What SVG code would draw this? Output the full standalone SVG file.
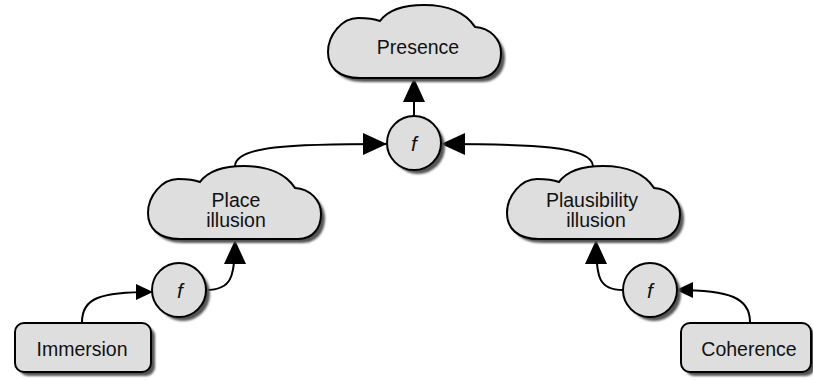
<svg xmlns="http://www.w3.org/2000/svg" width="813" height="381" viewBox="0 0 813 381">
<style>
.shape{fill:#dedede;stroke:#000;stroke-width:2}
.shadow{fill:#555;stroke:none;filter:url(#blur)}
.lbl{font-family:"Liberation Sans",Arial,sans-serif;font-size:19.5px;fill:#111;text-anchor:middle}
.fn{font-style:italic;font-size:21px}
.edge{fill:none;stroke:#000;stroke-width:2}
</style>
<defs>
<filter id="blur" x="-10%" y="-10%" width="120%" height="120%"><feGaussianBlur stdDeviation="0.8"/></filter>
<path id="cloud" d="M32,73 C10,73 0,62 0,47 C0,30 14,13 30,13 C40,13 47,14 52,16 C60,5 76,0 96,0 C120,0 138,8 147,22 C162,23 173,34 173,48 C173,62 165,73 150,73 Z"/>
<marker id="ahBig" markerUnits="userSpaceOnUse" markerWidth="24" markerHeight="22" refX="23" refY="11" orient="auto" viewBox="0 0 24 22">
<path d="M0,0 L24,11 L0,22 Z" fill="#000"/>
</marker>
<marker id="ahSmall" markerUnits="userSpaceOnUse" markerWidth="17" markerHeight="16" refX="16" refY="8" orient="auto" viewBox="0 0 17 16">
<path d="M0,0 L17,8 L0,16 Z" fill="#000"/>
</marker>
</defs>
<rect width="813" height="381" fill="#fff"/>

<g id="connectors">
<path class="edge" d="M414,116 L414,79" marker-end="url(#ahBig)"/>
<path class="edge" d="M235,166 C236,146 290,144 386,144" marker-end="url(#ahBig)"/>
<path class="edge" d="M593,166 C592,146 530,144 442,144" marker-end="url(#ahBig)"/>
<path class="edge" d="M206,290 C231,290 235,278 235,241" marker-end="url(#ahBig)"/>
<path class="edge" d="M623,290 C599,290 596,278 596,241" marker-end="url(#ahBig)"/>
<path class="edge" d="M82,322 C82,298 100,292 152,292" marker-end="url(#ahSmall)"/>
<path class="edge" d="M750,322 C750,298 730,290 677,290" marker-end="url(#ahSmall)"/>
</g>

<g id="presence">
<use href="#cloud" class="shadow" transform="translate(332,9)"/>
<use href="#cloud" class="shape" transform="translate(328,5)"/>
<text class="lbl" x="418" y="54">Presence</text>
</g>

<g id="f-top">
<circle class="shadow" cx="418" cy="147" r="27"/>
<circle class="shape" cx="414" cy="143" r="27"/>
<text class="lbl fn" x="414" y="151">f</text>
</g>

<g id="place-illusion">
<use href="#cloud" class="shadow" transform="translate(152,170)"/>
<use href="#cloud" class="shape" transform="translate(148,166)"/>
<text class="lbl" x="236" y="207">Place</text>
<text class="lbl" x="236" y="227">illusion</text>
</g>

<g id="plausibility-illusion">
<use href="#cloud" class="shadow" transform="translate(511,170)"/>
<use href="#cloud" class="shape" transform="translate(507,166)"/>
<text class="lbl" x="592" y="207">Plausibility</text>
<text class="lbl" x="596" y="227">illusion</text>
</g>

<g id="f-left">
<circle class="shadow" cx="183" cy="294" r="27"/>
<circle class="shape" cx="179" cy="290" r="27"/>
<text class="lbl fn" x="180" y="298">f</text>
</g>

<g id="f-right">
<circle class="shadow" cx="654" cy="294" r="27"/>
<circle class="shape" cx="650" cy="290" r="27"/>
<text class="lbl fn" x="650" y="298">f</text>
</g>

<g id="immersion">
<rect class="shadow" x="19" y="327" width="136" height="49" rx="9"/>
<rect class="shape" x="15" y="323" width="136" height="49" rx="9"/>
<text class="lbl" x="82" y="356">Immersion</text>
</g>

<g id="coherence">
<rect class="shadow" x="685" y="327" width="130" height="49" rx="9"/>
<rect class="shape" x="681" y="323" width="130" height="49" rx="9"/>
<text class="lbl" x="749" y="356">Coherence</text>
</g>
</svg>
